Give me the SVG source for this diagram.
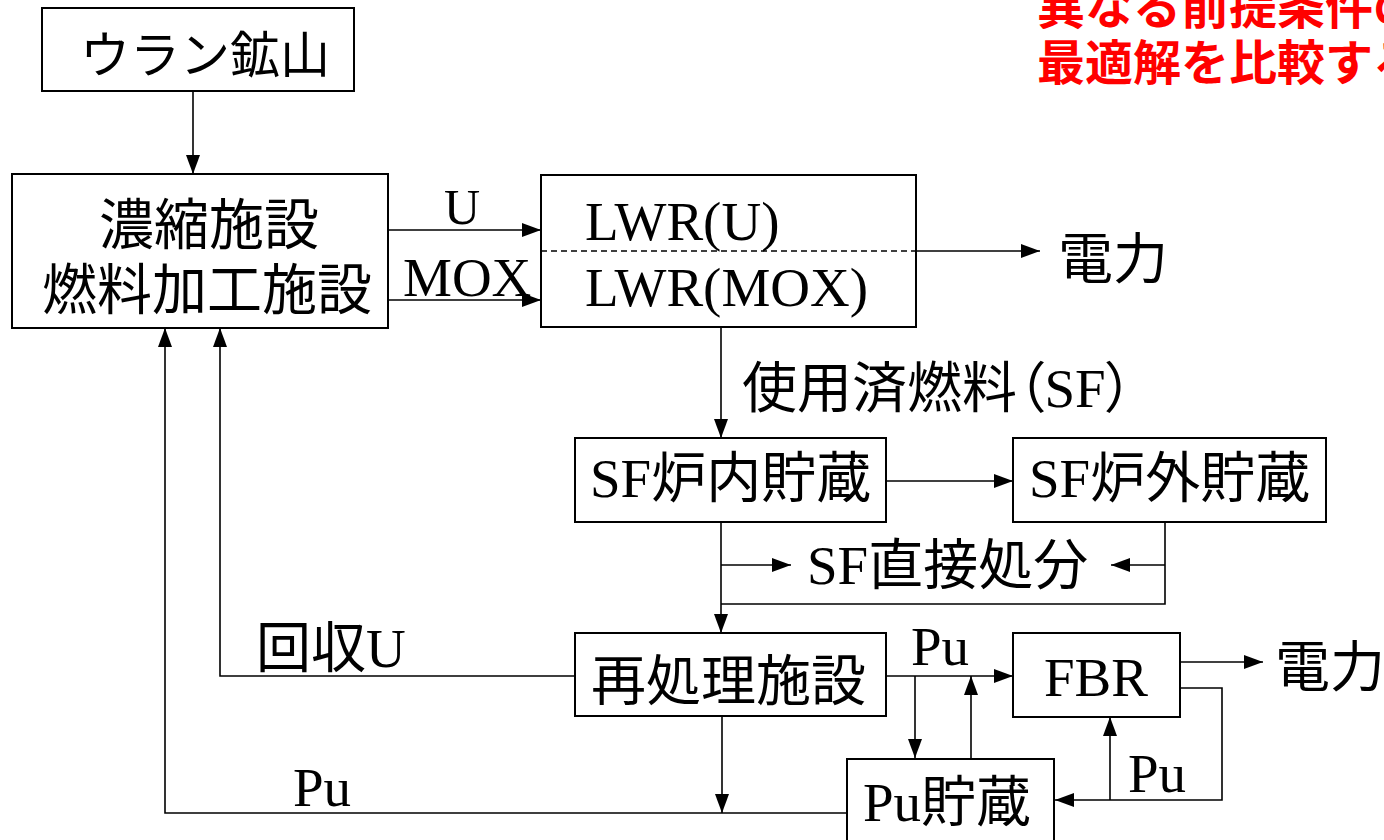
<svg xmlns="http://www.w3.org/2000/svg" width="1384" height="840" viewBox="0 0 1384 840">
<style>
.box{fill:#fff;stroke:#000;stroke-width:2}
.ln{fill:none;stroke:#000;stroke-width:1.6}
.t{font-family:"Liberation Serif","Noto Sans CJK JP",serif;font-size:55px;fill:#000}
.j{font-family:"Noto Sans CJK JP",sans-serif;font-size:55px;fill:#000}
.red{font-family:"Noto Sans CJK JP",sans-serif;font-size:48px;font-weight:bold;fill:#FF0000}
</style>
<defs>
<marker id="ah" markerUnits="userSpaceOnUse" markerWidth="20" markerHeight="14" refX="19" refY="7" orient="auto">
<path d="M0,0 L19,7 L0,14 z" fill="#000"/>
</marker>
</defs>
<rect width="1384" height="840" fill="#fff"/>

<g id="connectors">
<line class="ln" x1="193" y1="92" x2="193" y2="174" marker-end="url(#ah)"/>
<line class="ln" x1="388" y1="230" x2="541" y2="230" marker-end="url(#ah)"/>
<line class="ln" x1="388" y1="300" x2="541" y2="300" marker-end="url(#ah)"/>
<line class="ln" x1="916" y1="251" x2="1040" y2="251" marker-end="url(#ah)"/>
<line class="ln" x1="721" y1="327" x2="721" y2="438" marker-end="url(#ah)"/>
<line class="ln" x1="886" y1="481" x2="1013" y2="481" marker-end="url(#ah)"/>
<line class="ln" x1="721" y1="522" x2="721" y2="633" marker-end="url(#ah)"/>
<line class="ln" x1="721" y1="565" x2="791" y2="565" marker-end="url(#ah)"/>
<polyline class="ln" points="1165,522 1165,604 721,604"/>
<line class="ln" x1="1165" y1="565" x2="1111" y2="565" marker-end="url(#ah)"/>
<polyline class="ln" points="575,676 220,676 220,328" marker-end="url(#ah)"/>
<line class="ln" x1="886" y1="676" x2="1013" y2="676" marker-end="url(#ah)"/>
<line class="ln" x1="915" y1="676" x2="915" y2="758" marker-end="url(#ah)"/>
<line class="ln" x1="971" y1="759" x2="971" y2="676" marker-end="url(#ah)"/>
<line class="ln" x1="1180" y1="662" x2="1263" y2="662" marker-end="url(#ah)"/>
<polyline class="ln" points="1180,688 1222,688 1222,800 1055,800" marker-end="url(#ah)"/>
<line class="ln" x1="1110" y1="800" x2="1110" y2="717" marker-end="url(#ah)"/>
<line class="ln" x1="722" y1="716" x2="722" y2="813" marker-end="url(#ah)"/>
<polyline class="ln" points="847,813 165,813 165,328" marker-end="url(#ah)"/>
</g>

<g id="mine">
<rect class="box" x="42" y="8" width="312" height="83"/>
<text class="j" x="80" y="73" style="font-size:50px">ウラン鉱山</text>
</g>

<g id="fuel">
<rect class="box" x="12" y="174" width="376" height="154"/>
<text class="j" x="209" y="244" text-anchor="middle">濃縮施設</text>
<text class="j" x="207" y="309" text-anchor="middle">燃料加工施設</text>
</g>

<g id="lwr">
<rect class="box" x="541" y="175" width="375" height="152"/>
<line class="ln" x1="541" y1="251" x2="916" y2="251" stroke-dasharray="6 4"/>
<text class="t" x="585" y="240">LWR(U)</text>
<text class="t" x="585" y="306">LWR(MOX)</text>
</g>

<g id="labels">
<text class="t" x="462" y="224" text-anchor="middle" style="font-size:50px">U</text>
<text class="t" x="403" y="296">MOX</text>
<text class="j" x="1058" y="278">電力</text>
<text class="j" x="742" y="407" style="font-feature-settings:'palt'">使用済燃料（<tspan font-family="Liberation Serif">SF</tspan>）</text>
<text class="t" x="807" y="584">SF直接処分</text>
<text class="t" x="256" y="667">回収U</text>
<text class="t" x="911" y="665">Pu</text>
<text class="j" x="1275" y="686">電力</text>
<text class="t" x="1128" y="792">Pu</text>
<text class="t" x="293" y="806">Pu</text>
</g>

<g id="sf-in">
<rect class="box" x="575" y="438" width="311" height="84"/>
<text class="t" x="590" y="497">SF炉内貯蔵</text>
</g>

<g id="sf-out">
<rect class="box" x="1013" y="438" width="313" height="84"/>
<text class="t" x="1029" y="497">SF炉外貯蔵</text>
</g>

<g id="reprocess">
<rect class="box" x="575" y="633" width="311" height="83"/>
<text class="j" x="591" y="700">再処理施設</text>
</g>

<g id="fbr">
<rect class="box" x="1013" y="633" width="167" height="84"/>
<text class="t" x="1044" y="696">FBR</text>
</g>

<g id="pu-store">
<rect class="box" x="847" y="759" width="207" height="110"/>
<text class="t" x="863" y="821">Pu貯蔵</text>
</g>

<g id="note">
<text class="red" x="1037" y="24">異なる前提条件の</text>
<text class="red" x="1037" y="80">最適解を比較する</text>
</g>
</svg>
